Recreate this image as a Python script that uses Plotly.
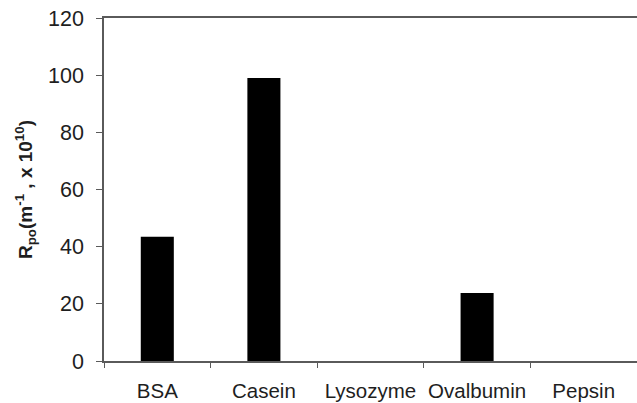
import plotly.graph_objects as go

# Pore-blocking resistance for each protein foulant
proteins = ["BSA", "Casein", "Lysozyme", "Ovalbumin", "Pepsin"]
r_po = [43.5, 99.0, 0.0, 23.8, 0.0]

y_ticks = [0, 20, 40, 60, 80, 100, 120]

font_family = "Liberation Sans, Arial, sans-serif"
axis_color = "#5a5a5a"
text_color = "#1e1e1e"

fig = go.Figure(
    go.Bar(
        x=proteins,
        y=r_po,
        width=0.31,
        marker=dict(color="#000000", line=dict(width=0)),
    )
)

fig.update_layout(
    width=637,
    height=403,
    margin=dict(l=104, r=0, t=18, b=42),
    plot_bgcolor="white",
    paper_bgcolor="white",
    showlegend=False,
    font=dict(family=font_family, size=20, color=text_color),
)

fig.update_xaxes(
    type="category",
    range=[-0.5, 4.5],
    tickson="boundaries",
    ticks="outside",
    ticklen=5,
    tickcolor=axis_color,
    showline=True,
    linecolor=axis_color,
    linewidth=1.5,
    mirror=True,
    showgrid=False,
    tickangle=0,
    automargin=False,
    ticklabelstandoff=11,
    tickfont=dict(size=20.5, color=text_color),
)

fig.update_yaxes(
    range=[0, 120],
    tickvals=y_ticks,
    ticks="outside",
    ticklen=6,
    tickcolor=axis_color,
    showline=True,
    linecolor=axis_color,
    linewidth=1.5,
    showgrid=False,
    zeroline=False,
    automargin=False,
    ticklabelstandoff=8,
    tickfont=dict(size=21.5, color=text_color),
    title=dict(
        text="<b>R<sub>po</sub>(m<sup>-1</sup> , x 10<sup>10</sup>)</b>",
        font=dict(size=19, color=text_color),
        standoff=10,
    ),
)

fig.write_html("out.html")
